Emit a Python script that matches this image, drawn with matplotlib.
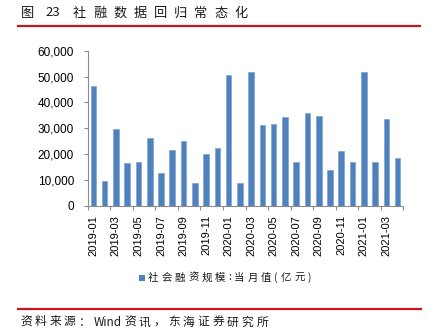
import re
import numpy as np
import matplotlib
matplotlib.use("Agg")
import matplotlib.pyplot as plt
from matplotlib.transforms import IdentityTransform
from matplotlib.patches import Rectangle
from matplotlib.lines import Line2D
from matplotlib.ticker import FuncFormatter

# 社会融资规模 当月值 (亿元)
months = ["2019-01", "2019-02", "2019-03", "2019-04", "2019-05", "2019-06",
          "2019-07", "2019-08", "2019-09", "2019-10", "2019-11", "2019-12",
          "2020-01", "2020-02", "2020-03", "2020-04", "2020-05", "2020-06",
          "2020-07", "2020-08", "2020-09", "2020-10", "2020-11", "2020-12",
          "2021-01", "2021-02", "2021-03", "2021-04"]
tsf = [46600, 9500, 29700, 16500, 17000, 26400,
       12800, 21700, 24900, 8600, 19900, 22200,
       50500, 8600, 51800, 31200, 31600, 34400,
       17000, 35800, 34900, 13800, 21300, 17000,
       51800, 17000, 33500, 18400]

title = "图 23 社融数据回归常态化"
series_name = "社会融资规模:当月值(亿元)"
source = "资料来源：Wind资讯，东海证券研究所"

W, H = 429, 332
cjk = ["Noto Sans CJK SC", "DejaVu Sans"]
blue = "#4F81BD"
red = "#C8161E"
axis_grey = "#8C8C8C"

fig = plt.figure(figsize=(W / 100, H / 100), dpi=100)
ax = fig.add_axes([87.7 / W, (H - 205.5) / H, 315.6 / W, 154.5 / H])

x = np.arange(len(months))
ax.bar(x, tsf, width=0.5, color=blue, edgecolor="#7EA3D2", linewidth=0.5)

ax.set_xlim(-0.5, len(months) - 0.5)
ax.set_ylim(0, 60000)
ax.set_yticks(np.arange(0, 60001, 10000))
ax.yaxis.set_major_formatter(FuncFormatter(lambda v, p: f"{int(v):,}"))

ax.set_xticks(x[::2])
ax.set_xticklabels(months[::2], rotation=90)
ax.set_xticks(np.arange(-0.5, len(months), 2), minor=True)

for s in ["top", "right"]:
    ax.spines[s].set_visible(False)
for s in ["left", "bottom"]:
    ax.spines[s].set_color(axis_grey)
    ax.spines[s].set_linewidth(0.8)

ax.tick_params(axis="x", which="major", length=0, pad=6.8,
               labelsize=8, labelcolor="black")
ax.tick_params(axis="x", which="minor", length=2.6, width=0.8,
               color=axis_grey, direction="out")
ax.tick_params(axis="y", length=2.6, width=0.8, color=axis_grey, pad=7.2,
               labelsize=8.5, labelcolor="black")
for lab in ax.get_xticklabels() + ax.get_yticklabels():
    lab.set_family("Liberation Sans")

renderer = fig.canvas.get_renderer()


def spaced_text(s, x0, x1, y, size, space_w=4.0):
    # lay out characters one by one so the line runs from x0 to x1 (pixels)
    tokens = re.findall(r"[A-Za-z0-9]+| |.", s)
    items = []
    for t in tokens:
        if t == " ":
            items.append((None, space_w))
            continue
        txt = fig.text(0, 0, t, fontsize=size, family=cjk, color="#1A1A1A",
                       transform=IdentityTransform(), ha="left", va="center")
        items.append((txt, txt.get_window_extent(renderer).width))
    gap = (x1 - x0 - sum(w for _, w in items)) / (len(items) - 1)
    pos = x0
    for txt, w in items:
        if txt is not None:
            txt.set_position((pos, H - y))
        pos += w + gap


# header and footer
spaced_text(title, 20.5, 248, 13, 9.5, space_w=-2.0)
fig.add_artist(Line2D([18, 420], [H - 26, H - 26], transform=IdentityTransform(),
                      color=red, linewidth=1.6))
fig.add_artist(Line2D([18, 421], [H - 309, H - 309], transform=IdentityTransform(),
                      color=red, linewidth=1.6))
spaced_text(source, 20, 268, 322, 8.5)

# legend
fig.add_artist(Rectangle((139.3, H - 280.5), 5.2, 5.2, transform=IdentityTransform(),
                         facecolor=blue, edgecolor="none"))
spaced_text(series_name, 148, 311, 277.5, 7.5)

fig.savefig("out.png", dpi=100)
